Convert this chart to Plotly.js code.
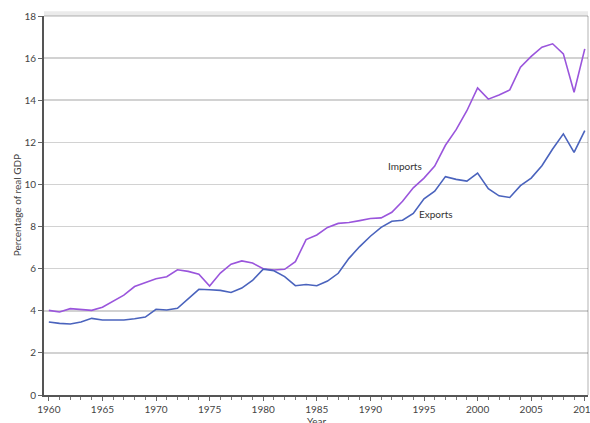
<!DOCTYPE html>
<html>
<head>
<meta charset="utf-8">
<script src="https://cdn.plot.ly/plotly-3.0.1.min.js"></script>
<style>html,body{margin:0;padding:0;background:#fff;}#chart{width:590px;height:423px;}</style>
</head>
<body>
<div id="chart"></div>
<script>
const years = [1960,1961,1962,1963,1964,1965,1966,1967,1968,1969,1970,1971,1972,1973,1974,1975,1976,1977,1978,1979,1980,1981,1982,1983,1984,1985,1986,1987,1988,1989,1990,1991,1992,1993,1994,1995,1996,1997,1998,1999,2000,2001,2002,2003,2004,2005,2006,2007,2008,2009,2010];
const imports = [4.02,3.94,4.1,4.05,4.02,4.17,4.45,4.74,5.15,5.33,5.52,5.62,5.95,5.87,5.74,5.18,5.79,6.21,6.37,6.27,6.0,5.94,5.97,6.33,7.38,7.6,7.96,8.15,8.19,8.28,8.38,8.41,8.68,9.2,9.84,10.3,10.87,11.86,12.6,13.5,14.58,14.05,14.25,14.49,15.57,16.08,16.52,16.68,16.2,14.38,16.44];
const exports = [3.47,3.4,3.37,3.47,3.64,3.56,3.56,3.56,3.62,3.7,4.07,4.04,4.12,4.57,5.02,5.0,4.97,4.87,5.08,5.44,5.98,5.9,5.62,5.19,5.25,5.19,5.41,5.78,6.49,7.05,7.54,7.96,8.25,8.3,8.62,9.32,9.68,10.37,10.24,10.16,10.54,9.8,9.46,9.38,9.94,10.3,10.89,11.68,12.4,11.52,12.56];
const seriesNames = ["Imports","Exports"];
const yTicks = [0,2,4,6,8,10,12,14,16,18];
const xTicks = [1960,1965,1970,1975,1980,1985,1990,1995,2000,2005,2010];

const font = "Lato, 'Liberation Sans', sans-serif";
const data = [
  {x: years, y: imports, mode: 'lines', name: seriesNames[0], line: {color: '#9a55dc', width: 1.6}},
  {x: years, y: exports, mode: 'lines', name: seriesNames[1], line: {color: '#4a63bd', width: 1.6}}
];
const layout = {
  width: 590, height: 423,
  margin: {l: 44, r: 2, t: 16, b: 28},
  paper_bgcolor: '#fff', plot_bgcolor: '#fff',
  showlegend: false,
  font: {family: font, size: 10, color: '#444'},
  xaxis: {
    range: [1959.55, 2010.3],
    tickvals: xTicks, ticktext: xTicks.map(String),
    ticklabeloverflow: 'allow',
    ticks: 'outside', ticklen: 4, tickcolor: '#666', tickwidth: 1,
    minor: {dtick: 1, tick0: 1960, ticks: 'outside', ticklen: 3, tickcolor: '#777', showgrid: false},
    showgrid: false, zeroline: false,
    showline: true, linecolor: '#555', linewidth: 2,
    tickfont: {family: font, size: 10, color: '#444'}
  },
  yaxis: {
    range: [0, 18],
    tickvals: yTicks, ticktext: yTicks.map(String),
    ticks: 'outside', ticklen: 4, tickcolor: '#666',
    showgrid: true, gridcolor: '#d2d2d2', gridwidth: 1.5,
    zeroline: false,
    showline: true, linecolor: '#555', linewidth: 2,
    tickfont: {family: font, size: 10, color: '#444'}
  },
  shapes: [
    {type: 'line', xref: 'paper', yref: 'paper', x0: 0, x1: 1, y0: 1.006, y1: 1.006, line: {color: 'rgba(0,0,0,0.08)', width: 5}},
    {type: 'line', xref: 'paper', yref: 'paper', x0: 0, x1: 1, y0: 1, y1: 1, line: {color: 'rgba(0,0,0,0.18)', width: 1.5}},
    {type: 'line', xref: 'paper', yref: 'paper', x0: 1, x1: 1, y0: 0, y1: 1, line: {color: 'rgba(0,0,0,0.2)', width: 1.5}}
  ],
  annotations: [
    {x: 1993.2, y: 10.87, xref: 'x', yref: 'y', xanchor: 'center', yanchor: 'middle', text: seriesNames[0], showarrow: false, font: {family: font, size: 10, color: '#333'}},
    {x: 1996.1, y: 8.59, xref: 'x', yref: 'y', xanchor: 'center', yanchor: 'middle', text: seriesNames[1], showarrow: false, font: {family: font, size: 10, color: '#333'}},
    {x: -0.05, y: 0.5, xref: 'paper', yref: 'paper', xanchor: 'center', yanchor: 'middle', text: 'Percentage of real GDP', textangle: -90, showarrow: false, font: {family: font, size: 10, color: '#444'}},
    {x: 0.5, y: -0.068, xref: 'paper', yref: 'paper', xanchor: 'center', yanchor: 'middle', text: 'Year', showarrow: false, font: {family: font, size: 10, color: '#444'}}
  ]
};
Plotly.newPlot('chart', data, layout, {displayModeBar: false, staticPlot: true});
</script>
</body>
</html>
